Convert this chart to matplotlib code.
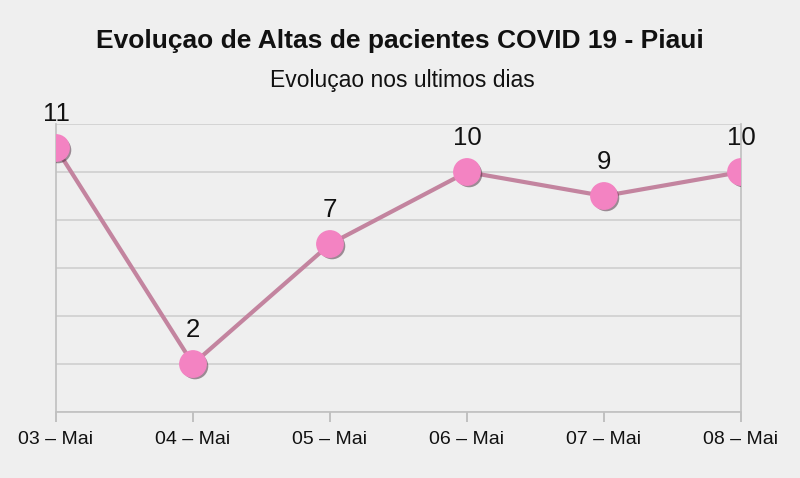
import matplotlib.pyplot as plt
import matplotlib.patheffects as pe
import numpy as np

dias = ['03 – Mai', '04 – Mai', '05 – Mai', '06 – Mai', '07 – Mai', '08 – Mai']
altas = [11, 2, 7, 10, 9, 10]

plt.rcParams['font.family'] = ['Liberation Sans', 'DejaVu Sans']

bg = '#efefef'
fig = plt.figure(figsize=(8, 4.78), dpi=100, facecolor=bg)
ax = fig.add_axes([0.07, 0.138, 0.85625, 0.6026])
ax.set_facecolor(bg)

x = np.arange(len(dias))
ax.plot(x, altas, color='#c3849f', linewidth=3, zorder=3)
ax.plot(x, altas, linestyle='none', marker='o', markersize=19,
        markerfacecolor='#f383c2', markeredgecolor='#f383c2', zorder=4,
        path_effects=[pe.SimplePatchShadow(offset=(1.5, -1.5), alpha=0.5), pe.Normal()])

for xi, v in zip(x, altas):
    ax.annotate(str(v), (xi, v), xytext=(0, 16), textcoords='offset points',
                ha='center', va='bottom', fontsize=18.5, color='#111111')

ax.set_xlim(0, len(dias) - 1)
ax.set_ylim(0, 12)
ax.set_yticks(np.arange(0, 13, 2))
ax.set_yticklabels([])
ax.tick_params(axis='y', length=0)
ax.grid(axis='y', color='#cfcfcf', linewidth=1.2)
ax.set_axisbelow(True)

ax.set_xticks(x)
ax.set_xticklabels(dias, fontsize=14, color='#111111')
ax.tick_params(axis='x', length=7.5, color='#b8b8b8', width=1.2, pad=6)

for s in ['left', 'right', 'bottom']:
    ax.spines[s].set_color('#c0c0c0')
    ax.spines[s].set_linewidth(1.2)
ax.spines['top'].set_visible(False)

fig.text(0.4995, 0.8996, 'Evoluçao de Altas de pacientes COVID 19 - Piaui',
         ha='center', va='baseline', fontsize=19, fontweight='bold', color='#111111')
fig.text(0.503, 0.818, 'Evoluçao nos ultimos dias',
         ha='center', va='baseline', fontsize=16.5, color='#111111')

fig.savefig('out.png', dpi=100, facecolor=bg)
